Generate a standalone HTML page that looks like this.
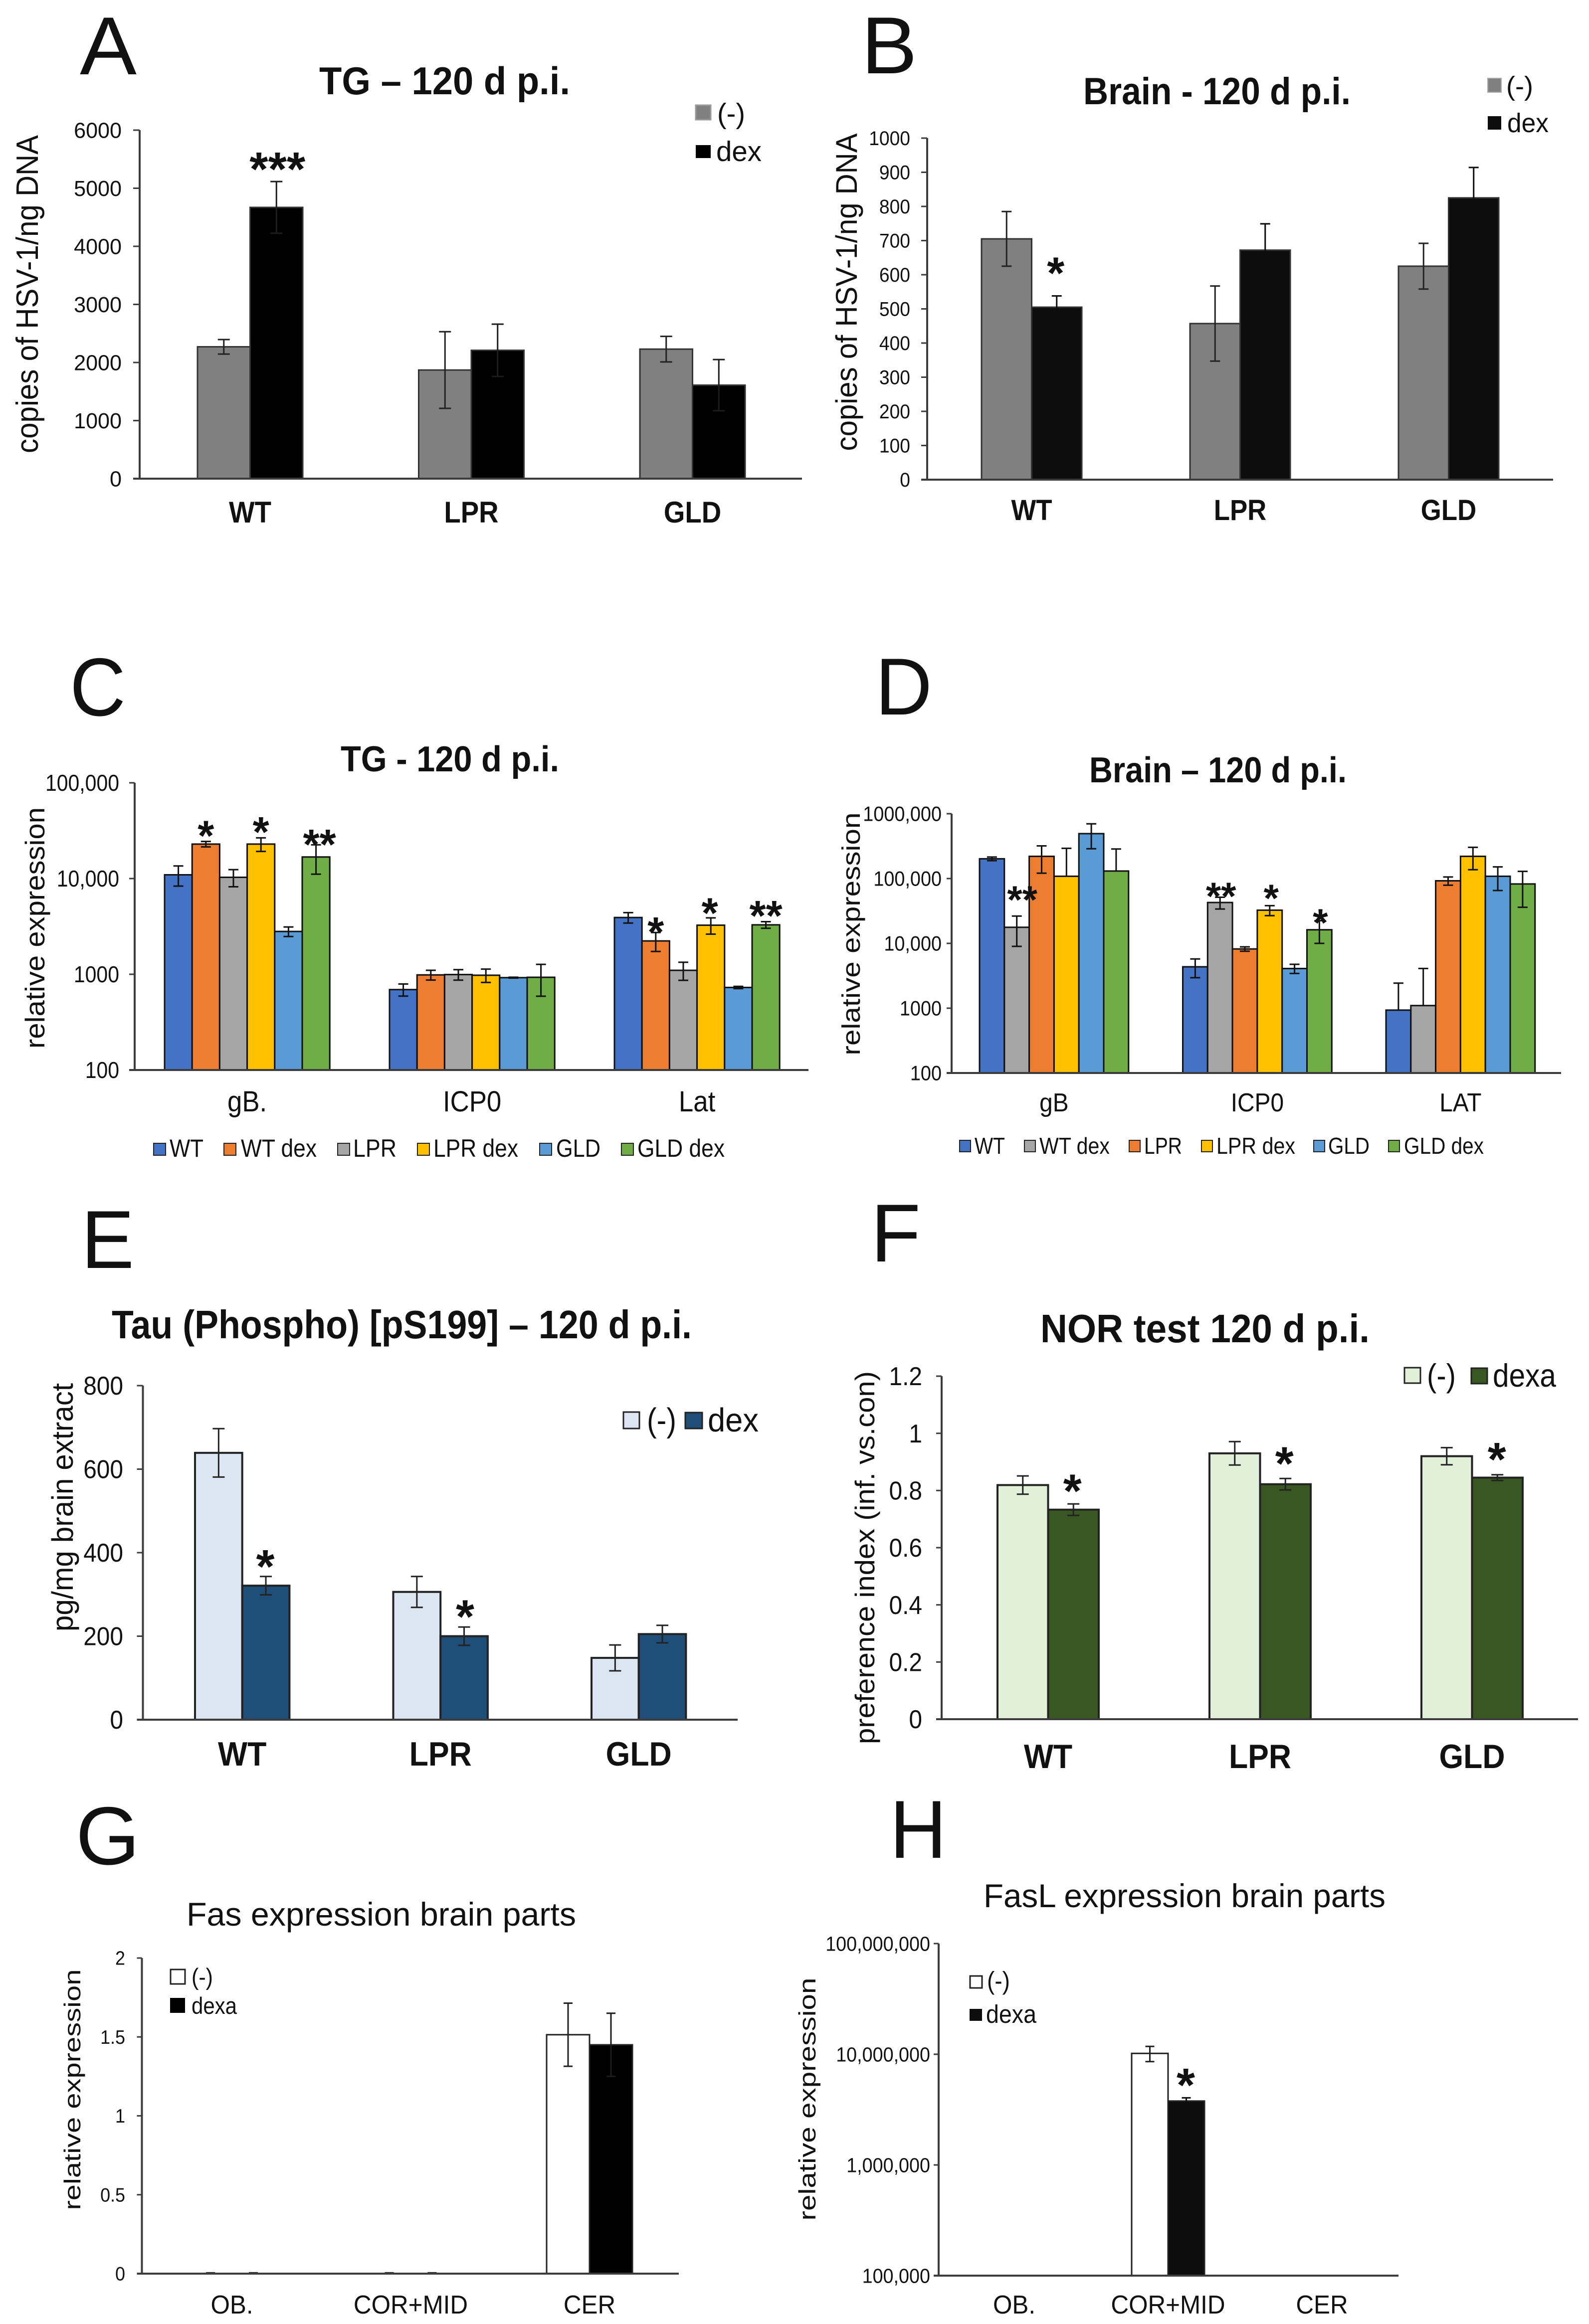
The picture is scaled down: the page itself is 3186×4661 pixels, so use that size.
<!DOCTYPE html>
<html lang="en">
<head>
<meta charset="utf-8">
<title>HSV-1 latency figure, panels A to H</title>
<style>
html,body{margin:0;padding:0;background:#fff;width:3186px;height:4661px;overflow:hidden}
svg{display:block;font-family:"Liberation Sans",Arial,sans-serif;fill:#111}
</style>
</head>
<body>
<svg id="figure" xmlns="http://www.w3.org/2000/svg" width="3186" height="4661" viewBox="0 0 3186 4661">
<rect x="0" y="0" width="3186" height="4661" fill="#fff"/>

<g id="panel-a">
  <text x="160" y="149" font-size="165" textLength="114" lengthAdjust="spacingAndGlyphs">A</text>
  <text x="640" y="189" font-size="78" font-weight="bold" textLength="503" lengthAdjust="spacingAndGlyphs">TG – 120 d p.i.</text>
  <text transform="translate(76,590) rotate(-90)" text-anchor="middle" font-size="62" textLength="638" lengthAdjust="spacingAndGlyphs">copies of HSV-1/ng DNA</text>
  <rect x="1395" y="211" width="30" height="29" fill="#808080" stroke="#999" stroke-width="3"/>
  <text x="1438" y="247" font-size="57" textLength="56" lengthAdjust="spacingAndGlyphs">(-)</text>
  <rect x="1395" y="291" width="30" height="26" fill="#000"/>
  <text x="1436" y="323" font-size="57" textLength="91" lengthAdjust="spacingAndGlyphs">dex</text>
</g>

<g id="panel-b">
  <text x="1727" y="147" font-size="162" textLength="112" lengthAdjust="spacingAndGlyphs">B</text>
  <text x="2172" y="209" font-size="76" font-weight="bold" textLength="536" lengthAdjust="spacingAndGlyphs">Brain - 120 d p.i.</text>
  <text transform="translate(1718,586) rotate(-90)" text-anchor="middle" font-size="60" textLength="637" lengthAdjust="spacingAndGlyphs">copies of HSV-1/ng DNA</text>
  <rect x="2983" y="157" width="27" height="28" fill="#808080" stroke="#aaa" stroke-width="2"/>
  <text x="3020" y="191" font-size="54" textLength="54" lengthAdjust="spacingAndGlyphs">(-)</text>
  <rect x="2983" y="233" width="27" height="27" fill="#0d0d0d"/>
  <text x="3022" y="265" font-size="54" textLength="83" lengthAdjust="spacingAndGlyphs">dex</text>
</g>

<g id="panel-c">
  <text x="140" y="1435" font-size="165" textLength="112" lengthAdjust="spacingAndGlyphs">C</text>
  <text x="683" y="1547" font-size="72" font-weight="bold" textLength="438" lengthAdjust="spacingAndGlyphs">TG - 120 d p.i.</text>
  <text transform="translate(89,1861) rotate(-90)" text-anchor="middle" font-size="55" textLength="484" lengthAdjust="spacingAndGlyphs">relative expression</text>
  <rect x="308" y="2293" width="24" height="24" fill="#4472C4" stroke="#222" stroke-width="2"/>
  <text x="340" y="2320" font-size="50" textLength="68" lengthAdjust="spacingAndGlyphs">WT</text>
  <rect x="449" y="2293" width="24" height="24" fill="#ED7D31" stroke="#222" stroke-width="2"/>
  <text x="483" y="2320" font-size="50" textLength="152" lengthAdjust="spacingAndGlyphs">WT dex</text>
  <rect x="677" y="2293" width="24" height="24" fill="#A5A5A5" stroke="#222" stroke-width="2"/>
  <text x="708" y="2320" font-size="50" textLength="87" lengthAdjust="spacingAndGlyphs">LPR</text>
  <rect x="837" y="2293" width="24" height="24" fill="#FFC000" stroke="#222" stroke-width="2"/>
  <text x="869" y="2320" font-size="50" textLength="170" lengthAdjust="spacingAndGlyphs">LPR dex</text>
  <rect x="1082" y="2293" width="24" height="24" fill="#5B9BD5" stroke="#222" stroke-width="2"/>
  <text x="1115" y="2320" font-size="50" textLength="89" lengthAdjust="spacingAndGlyphs">GLD</text>
  <rect x="1246" y="2293" width="24" height="24" fill="#70AD47" stroke="#222" stroke-width="2"/>
  <text x="1278" y="2320" font-size="50" textLength="175" lengthAdjust="spacingAndGlyphs">GLD dex</text>
</g>

<g id="panel-d">
  <text x="1755" y="1433" font-size="162" textLength="114" lengthAdjust="spacingAndGlyphs">D</text>
  <text x="2184" y="1569" font-size="72" font-weight="bold" textLength="516" lengthAdjust="spacingAndGlyphs">Brain – 120 d p.i.</text>
  <text transform="translate(1724,1873) rotate(-90)" text-anchor="middle" font-size="51" textLength="487" lengthAdjust="spacingAndGlyphs">relative expression</text>
  <rect x="1924" y="2287" width="22" height="23" fill="#4472C4" stroke="#222" stroke-width="2"/>
  <text x="1954" y="2314" font-size="46" textLength="61" lengthAdjust="spacingAndGlyphs">WT</text>
  <rect x="2054" y="2287" width="22" height="23" fill="#A5A5A5" stroke="#222" stroke-width="2"/>
  <text x="2084" y="2314" font-size="46" textLength="141" lengthAdjust="spacingAndGlyphs">WT dex</text>
  <rect x="2264" y="2287" width="22" height="23" fill="#ED7D31" stroke="#222" stroke-width="2"/>
  <text x="2294" y="2314" font-size="46" textLength="76" lengthAdjust="spacingAndGlyphs">LPR</text>
  <rect x="2409" y="2287" width="22" height="23" fill="#FFC000" stroke="#222" stroke-width="2"/>
  <text x="2439" y="2314" font-size="46" textLength="158" lengthAdjust="spacingAndGlyphs">LPR dex</text>
  <rect x="2634" y="2287" width="22" height="23" fill="#5B9BD5" stroke="#222" stroke-width="2"/>
  <text x="2663" y="2314" font-size="46" textLength="83" lengthAdjust="spacingAndGlyphs">GLD</text>
  <rect x="2784" y="2287" width="22" height="23" fill="#70AD47" stroke="#222" stroke-width="2"/>
  <text x="2815" y="2314" font-size="46" textLength="160" lengthAdjust="spacingAndGlyphs">GLD dex</text>
</g>

<g id="panel-e">
  <text x="163" y="2543" font-size="165" textLength="106" lengthAdjust="spacingAndGlyphs">E</text>
  <text x="224" y="2684" font-size="80" font-weight="bold" textLength="1163" lengthAdjust="spacingAndGlyphs">Tau (Phospho) [pS199] – 120 d p.i.</text>
  <text transform="translate(146,3023) rotate(-90)" text-anchor="middle" font-size="60" textLength="498" lengthAdjust="spacingAndGlyphs">pg/mg brain extract</text>
  <rect x="1250" y="2832" width="32" height="33" fill="#DCE6F2" stroke="#222" stroke-width="3"/>
  <text x="1297" y="2871" font-size="67" textLength="59" lengthAdjust="spacingAndGlyphs">(-)</text>
  <rect x="1374" y="2833" width="34" height="32" fill="#1F4E79" stroke="#222" stroke-width="3"/>
  <text x="1419" y="2871" font-size="67" textLength="102" lengthAdjust="spacingAndGlyphs">dex</text>
</g>

<g id="panel-f">
  <text x="1746" y="2530" font-size="165" textLength="100" lengthAdjust="spacingAndGlyphs">F</text>
  <text x="2086" y="2692" font-size="80" font-weight="bold" textLength="660" lengthAdjust="spacingAndGlyphs">NOR test 120 d p.i.</text>
  <text transform="translate(1753,3124) rotate(-90)" text-anchor="middle" font-size="55" textLength="748" lengthAdjust="spacingAndGlyphs">preference index (inf. vs.con)</text>
  <rect x="2816" y="2743" width="32" height="31" fill="#E2F0D9" stroke="#222" stroke-width="3"/>
  <text x="2861" y="2781" font-size="65" textLength="58" lengthAdjust="spacingAndGlyphs">(-)</text>
  <rect x="2950" y="2744" width="32" height="31" fill="#385723" stroke="#222" stroke-width="3"/>
  <text x="2993" y="2781" font-size="65" textLength="127" lengthAdjust="spacingAndGlyphs">dexa</text>
</g>

<g id="panel-g">
  <text x="152" y="3739" font-size="165" textLength="128" lengthAdjust="spacingAndGlyphs">G</text>
  <text x="374" y="3862" font-size="66" textLength="781" lengthAdjust="spacingAndGlyphs">Fas expression brain parts</text>
  <text transform="translate(161,4191) rotate(-90)" text-anchor="middle" font-size="46" textLength="483" lengthAdjust="spacingAndGlyphs">relative expression</text>
  <rect x="342" y="3950" width="29" height="29" fill="#fff" stroke="#222" stroke-width="3"/>
  <text x="384" y="3981" font-size="47" textLength="43" lengthAdjust="spacingAndGlyphs">(-)</text>
  <rect x="341" y="4007" width="30" height="30" fill="#000"/>
  <text x="384" y="4039" font-size="47" textLength="91" lengthAdjust="spacingAndGlyphs">dexa</text>
</g>

<g id="panel-h">
  <text x="1784" y="3726" font-size="165" textLength="114" lengthAdjust="spacingAndGlyphs">H</text>
  <text x="1972" y="3825" font-size="66" textLength="806" lengthAdjust="spacingAndGlyphs">FasL expression brain parts</text>
  <text transform="translate(1635,4210) rotate(-90)" text-anchor="middle" font-size="47" textLength="487" lengthAdjust="spacingAndGlyphs">relative expression</text>
  <rect x="1945" y="3963" width="24" height="24" fill="#fff" stroke="#222" stroke-width="3"/>
  <text x="1979" y="3990" font-size="51" textLength="46" lengthAdjust="spacingAndGlyphs">(-)</text>
  <rect x="1944" y="4029" width="25" height="24" fill="#0d0d0d"/>
  <text x="1977" y="4057" font-size="51" textLength="101" lengthAdjust="spacingAndGlyphs">dexa</text>
</g>
</svg>

<script>
// ---- Panel A data ----
const panelACategories = ['WT', 'LPR', 'GLD'];
const panelATickValues = [0, 1000, 2000, 3000, 4000, 5000, 6000];
const panelATickLabels = ['0', '1000', '2000', '3000', '4000', '5000', '6000'];
const panelAControl = [2270, 1870, 2230];
const panelAControlErr = [125, 660, 220];
const panelADex = [4670, 2210, 1610];
const panelADexErr = [445, 450, 440];

// ---- Panel B data ----
const panelBCategories = ['WT', 'LPR', 'GLD'];
const panelBTickValues = [0, 100, 200, 300, 400, 500, 600, 700, 800, 900, 1000];
const panelBTickLabels = ['0', '100', '200', '300', '400', '500', '600', '700', '800', '900', '1000'];
const panelBControl = [705, 457, 625];
const panelBControlErr = [80, 110, 67];
const panelBDex = [505, 672, 825];
const panelBDexErr = [33, 77, 89];

// ---- Panel C data (log axis) ----
const panelCCategories = ['gB.', 'ICP0', 'Lat'];
const panelCTickValues = [100, 1000, 10000, 100000];
const panelCTickLabels = ['100', '1000', '10,000', '100,000'];
const panelCWt = [10940, 692, 3917];
const panelCWtErr = [2600, 100, 490];
const panelCWtDex = [22900, 985, 2230];
const panelCWtDexErr = [1500, 115, 500];
const panelCLpr = [10300, 993, 1100];
const panelCLprErr = [2100, 125, 235];
const panelCLprDex = [22900, 977, 3256];
const panelCLprDexErr = [3700, 155, 630];
const panelCGld = [2800, 922, 728];
const panelCGldErr = [320, 10, 20];
const panelCGldDex = [16800, 930, 3283];
const panelCGldDexErr = [5700, 340, 260];

// ---- Panel D data (log axis) ----
const panelDCategories = ['gB', 'ICP0', 'LAT'];
const panelDTickValues = [100, 1000, 10000, 100000, 1000000];
const panelDTickLabels = ['100', '1000', '10,000', '100,000', '1000,000'];
const panelDWt = [201800, 4350, 934];
const panelDWtErr = [13000, 1400, 1500];
const panelDWtDex = [17700, 42700, 1097];
const panelDWtDexErr = [8700, 8800, 3000];
const panelDLpr = [220000, 8200, 92300];
const panelDLprErr = [99000, 630, 13400];
const panelDLprDex = [108400, 32500, 220000];
const panelDLprDexErr = [184000, 5700, 83000];
const panelDGld = [493000, 4090, 108400];
const panelDGldErr = [205000, 660, 43000];
const panelDGldDex = [130600, 16200, 82500];
const panelDGldDexErr = [155000, 6200, 46500];

// ---- Panel E data ----
const panelECategories = ['WT', 'LPR', 'GLD'];
const panelETickValues = [0, 200, 400, 600, 800];
const panelETickLabels = ['0', '200', '400', '600', '800'];
const panelEControl = [639, 306, 148];
const panelEControlErr = [58, 37, 31];
const panelEDex = [321, 200, 205];
const panelEDexErr = [22, 22, 21];

// ---- Panel F data ----
const panelFCategories = ['WT', 'LPR', 'GLD'];
const panelFTickValues = [0, 0.2, 0.4, 0.6, 0.8, 1, 1.2];
const panelFTickLabels = ['0', '0.2', '0.4', '0.6', '0.8', '1', '1.2'];
const panelFControl = [0.819, 0.93, 0.92];
const panelFControlErr = [0.032, 0.041, 0.03];
const panelFDexa = [0.733, 0.822, 0.845];
const panelFDexaErr = [0.02, 0.02, 0.01];

// ---- Panel G data ----
const panelGCategories = ['OB.', 'COR+MID', 'CER'];
const panelGTickValues = [0, 0.5, 1, 1.5, 2];
const panelGTickLabels = ['0', '0.5', '1', '1.5', '2'];
const panelGControl = [0, 0, 1.514];
const panelGControlErr = [0.005, 0.005, 0.2];
const panelGDexa = [0, 0, 1.45];
const panelGDexaErr = [0.005, 0.005, 0.2];

// ---- Panel H data (log axis) ----
const panelHCategories = ['OB.', 'COR+MID', 'CER'];
const panelHTickValues = [100000, 1000000, 10000000, 100000000];
const panelHTickLabels = ['100,000', '1,000,000', '10,000,000', '100,000,000'];
const panelHControl = [0, 10180000, 0];
const panelHControlErr = [0, 1600000, 0];
const panelHDexa = [0, 3780000, 0];
const panelHDexaErr = [0, 260000, 0];

const SVG_NS = 'http://www.w3.org/2000/svg';

function make(tag, parent) {
  const el = document.createElementNS(SVG_NS, tag);
  parent.appendChild(el);
  return el;
}

function line(parent, x1, y1, x2, y2, color, width) {
  const el = make('line', parent);
  el.setAttribute('x1', x1);
  el.setAttribute('y1', y1);
  el.setAttribute('x2', x2);
  el.setAttribute('y2', y2);
  el.setAttribute('stroke', color);
  el.setAttribute('stroke-width', width);
  return el;
}

function label(parent, x, y, str, size, anchor, bold, squeeze) {
  const el = make('text', parent);
  el.setAttribute('x', x);
  el.setAttribute('y', y);
  el.setAttribute('font-size', size);
  el.setAttribute('text-anchor', anchor);
  if (bold) el.setAttribute('font-weight', 'bold');
  el.textContent = str;
  if (squeeze && squeeze !== 1) {
    el.setAttribute('textLength', (el.getComputedTextLength() * squeeze).toFixed(1));
    el.setAttribute('lengthAdjust', 'spacingAndGlyphs');
  }
  return el;
}

function drawChart(c) {
  const root = document.getElementById(c.id);
  const min = c.tickValues[0];
  const max = c.tickValues[c.tickValues.length - 1];
  const yScale = function (v) {
    const t = c.log
      ? (Math.log10(v) - Math.log10(min)) / (Math.log10(max) - Math.log10(min))
      : (v - min) / (max - min);
    return c.bottom - t * (c.bottom - c.top);
  };
  const barX = function (cat, ser) {
    return c.groupStart + cat * c.groupStep + ser * c.barWidth;
  };

  c.series.forEach(function (s, si) {
    s.values.forEach(function (v, ci) {
      if (v <= min) return;
      const bar = make('rect', root);
      
      
      bar.setAttribute('x', barX(ci, si));
      bar.setAttribute('y', yScale(v));
      bar.setAttribute('width', c.barWidth);
      bar.setAttribute('height', c.bottom - yScale(v));
      bar.setAttribute('fill', s.fill);
      bar.setAttribute('stroke', c.barStroke);
      bar.setAttribute('stroke-width', c.barStrokeWidth);
    });
  });

  c.series.forEach(function (s, si) {
    s.values.forEach(function (v, ci) {
      const e = s.errors[ci];
      if (!(e > 0)) return;
      const cx = barX(ci, si) + c.barWidth / 2;
      const yTop = yScale(v + e);
      const hasLower = v - e > min;
      const yLow = hasLower ? yScale(v - e) : yScale(Math.max(v, min));
      const color = s.errColor || c.errColor;
      const g = make('g', root);
      
      
      line(g, cx, yTop, cx, yLow, color, 3);
      line(g, cx - c.capHalf, yTop, cx + c.capHalf, yTop, color, 3);
      if (hasLower) line(g, cx - c.capHalf, yLow, cx + c.capHalf, yLow, color, 3);
    });
  });

  const yAxis = line(root, c.axisX, c.top, c.axisX, c.bottom, c.axisColor, 4);
  
  
  const xAxis = line(root, c.axisX - c.tickLen, c.bottom, c.baseRight, c.bottom, c.axisColor, 4);
  
  

  c.tickValues.forEach(function (v, i) {
    const y = yScale(v);
    const tick = line(root, c.axisX - c.tickLen, y, c.axisX, y, c.axisColor, 3);
    
    
    const tl = label(root, c.tickRight, y + 0.35 * c.tickSize, c.tickLabels[i], c.tickSize, 'end', false, c.tickSqueeze);
    
    
  });

  c.categories.forEach(function (name, ci) {
    const cx = barX(ci, 0) + c.barWidth * c.series.length / 2;
    const cl = label(root, cx, c.catBaseline, name, c.catSize, 'middle', c.catBold, c.catSqueeze);
    
    
  });

  c.stars.forEach(function (st) {
    const s = c.series[st.ser];
    const v = s.values[st.cat] + s.errors[st.cat];
    const cx = barX(st.cat, st.ser) + c.barWidth / 2 + st.dx;
    const y = yScale(v) - st.gap + c.starDrop * c.starSize;
    const mark = label(root, cx, y, st.text, c.starSize, 'middle', true, 1);
    
    
  });
}

drawChart({
  id: 'panel-a', log: false, categories: panelACategories,
  tickValues: panelATickValues, tickLabels: panelATickLabels,
  top: 261, bottom: 960, axisX: 280, tickLen: 13, baseRight: 1608,
  tickRight: 244, tickSize: 44, tickSqueeze: 0.98, catBaseline: 1048, catSize: 60, catBold: true, catSqueeze: 0.91,
  groupStart: 396, groupStep: 443.5, barWidth: 105.5,
  barStroke: '#333', barStrokeWidth: 3, errColor: '#222', capHalf: 12, axisColor: '#3c3c3c',
  starSize: 96, starDrop: 0.28,
  series: [
    { name: 'control', values: panelAControl, errors: panelAControlErr, fill: '#808080' },
    { name: 'dex', values: panelADex, errors: panelADexErr, fill: '#000000', errColor: '#1c1c1c' }
  ],
  stars: [{ cat: 0, ser: 1, text: '***', gap: 19, dx: 2 }]
});

drawChart({
  id: 'panel-b', log: false, categories: panelBCategories,
  tickValues: panelBTickValues, tickLabels: panelBTickLabels,
  top: 277, bottom: 962, axisX: 1859, tickLen: 12, baseRight: 3114,
  tickRight: 1825, tickSize: 40, tickSqueeze: 0.93, catBaseline: 1043, catSize: 58, catBold: true, catSqueeze: 0.91,
  groupStart: 1968, groupStep: 418, barWidth: 100.5,
  barStroke: '#333', barStrokeWidth: 3, errColor: '#222', capHalf: 10, axisColor: '#3c3c3c',
  starSize: 90, starDrop: 0.32,
  series: [
    { name: 'control', values: panelBControl, errors: panelBControlErr, fill: '#808080' },
    { name: 'dex', values: panelBDex, errors: panelBDexErr, fill: '#0d0d0d', errColor: '#0d0d0d' }
  ],
  stars: [{ cat: 0, ser: 1, text: '*', gap: 44, dx: -2 }]
});

drawChart({
  id: 'panel-c', log: true, categories: panelCCategories,
  tickValues: panelCTickValues, tickLabels: panelCTickLabels,
  top: 1570, bottom: 2146, axisX: 270, tickLen: 11, baseRight: 1621,
  tickRight: 239, tickSize: 46, tickSqueeze: 0.89, catBaseline: 2229, catSize: 58, catBold: false, catSqueeze: 0.91,
  groupStart: 330, groupStep: 451, barWidth: 55.2,
  barStroke: '#111', barStrokeWidth: 3, errColor: '#111', capHalf: 10, axisColor: '#3c3c3c',
  starSize: 85, starDrop: 0.42,
  series: [
    { name: 'wt', values: panelCWt, errors: panelCWtErr, fill: '#4472C4' },
    { name: 'wt-dex', values: panelCWtDex, errors: panelCWtDexErr, fill: '#ED7D31' },
    { name: 'lpr', values: panelCLpr, errors: panelCLprErr, fill: '#A5A5A5' },
    { name: 'lpr-dex', values: panelCLprDex, errors: panelCLprDexErr, fill: '#FFC000' },
    { name: 'gld', values: panelCGld, errors: panelCGldErr, fill: '#5B9BD5' },
    { name: 'gld-dex', values: panelCGldDex, errors: panelCGldDexErr, fill: '#70AD47' }
  ],
  stars: [
    { cat: 0, ser: 1, text: '*', gap: 18, dx: 0 },
    { cat: 0, ser: 3, text: '*', gap: 18, dx: 0 },
    { cat: 0, ser: 5, text: '**', gap: 7, dx: 7 },
    { cat: 2, ser: 1, text: '*', gap: 7, dx: 0 },
    { cat: 2, ser: 3, text: '*', gap: 16, dx: -2 },
    { cat: 2, ser: 5, text: '**', gap: 18, dx: 0 }
  ]
});

drawChart({
  id: 'panel-d', log: true, categories: panelDCategories,
  tickValues: panelDTickValues, tickLabels: panelDTickLabels,
  top: 1632, bottom: 2152, axisX: 1908, tickLen: 10, baseRight: 3130,
  tickRight: 1888, tickSize: 42, tickSqueeze: 0.9, catBaseline: 2229, catSize: 52, catBold: false, catSqueeze: 0.92,
  groupStart: 1964, groupStep: 407.5, barWidth: 49.8,
  barStroke: '#111', barStrokeWidth: 3, errColor: '#111', capHalf: 10, axisColor: '#3c3c3c',
  starSize: 78, starDrop: 0.42,
  series: [
    { name: 'wt', values: panelDWt, errors: panelDWtErr, fill: '#4472C4' },
    { name: 'wt-dex', values: panelDWtDex, errors: panelDWtDexErr, fill: '#A5A5A5' },
    { name: 'lpr', values: panelDLpr, errors: panelDLprErr, fill: '#ED7D31' },
    { name: 'lpr-dex', values: panelDLprDex, errors: panelDLprDexErr, fill: '#FFC000' },
    { name: 'gld', values: panelDGld, errors: panelDGldErr, fill: '#5B9BD5' },
    { name: 'gld-dex', values: panelDGldDex, errors: panelDGldDexErr, fill: '#70AD47' }
  ],
  stars: [
    { cat: 0, ser: 1, text: '**', gap: 39, dx: 11 },
    { cat: 1, ser: 1, text: '**', gap: 8, dx: 2 },
    { cat: 1, ser: 3, text: '*', gap: 21, dx: 3 },
    { cat: 1, ser: 5, text: '*', gap: 2, dx: 2 }
  ]
});

drawChart({
  id: 'panel-e', log: false, categories: panelECategories,
  tickValues: panelETickValues, tickLabels: panelETickLabels,
  top: 2779, bottom: 3449, axisX: 286.5, tickLen: 12, baseRight: 1479,
  tickRight: 247, tickSize: 52, tickSqueeze: 0.92, catBaseline: 3541, catSize: 68, catBold: true, catSqueeze: 0.92,
  groupStart: 391, groupStep: 397.5, barWidth: 94.7,
  barStroke: '#222', barStrokeWidth: 4, errColor: '#222', capHalf: 12, axisColor: '#3c3c3c',
  starSize: 95, starDrop: 0.3,
  series: [
    { name: 'control', values: panelEControl, errors: panelEControlErr, fill: '#DCE6F2' },
    { name: 'dex', values: panelEDex, errors: panelEDexErr, fill: '#1F4E79' }
  ],
  stars: [
    { cat: 0, ser: 1, text: '*', gap: 16, dx: -1 },
    { cat: 1, ser: 1, text: '*', gap: 17, dx: 2 }
  ]
});

drawChart({
  id: 'panel-f', log: false, categories: panelFCategories,
  tickValues: panelFTickValues, tickLabels: panelFTickLabels,
  top: 2760, bottom: 3448, axisX: 1888, tickLen: 11, baseRight: 3164,
  tickRight: 1849, tickSize: 52, tickSqueeze: 0.92, catBaseline: 3546, catSize: 68, catBold: true, catSqueeze: 0.92,
  groupStart: 2000, groupStep: 425, barWidth: 101.5,
  barStroke: '#222', barStrokeWidth: 4, errColor: '#222', capHalf: 12, axisColor: '#3c3c3c',
  starSize: 95, starDrop: 0.32,
  series: [
    { name: 'control', values: panelFControl, errors: panelFControlErr, fill: '#E2F0D9' },
    { name: 'dexa', values: panelFDexa, errors: panelFDexaErr, fill: '#385723' }
  ],
  stars: [
    { cat: 0, ser: 1, text: '*', gap: 24, dx: -2 },
    { cat: 1, ser: 1, text: '*', gap: 28, dx: -2 },
    { cat: 2, ser: 1, text: '*', gap: 29, dx: -1 }
  ]
});

drawChart({
  id: 'panel-g', log: false, categories: panelGCategories,
  tickValues: panelGTickValues, tickLabels: panelGTickLabels,
  top: 3927, bottom: 4560, axisX: 284.5, tickLen: 10, baseRight: 1361,
  tickRight: 251, tickSize: 39, tickSqueeze: 0.92, catBaseline: 4640, catSize: 52, catBold: false, catSqueeze: 0.95,
  groupStart: 379, groupStep: 358.5, barWidth: 86,
  barStroke: '#222', barStrokeWidth: 3, errColor: '#222', capHalf: 9, axisColor: '#3c3c3c',
  starSize: 90, starDrop: 0.32,
  series: [
    { name: 'control', values: panelGControl, errors: panelGControlErr, fill: '#ffffff' },
    { name: 'dexa', values: panelGDexa, errors: panelGDexaErr, fill: '#000000', errColor: '#1c1c1c' }
  ],
  stars: []
});

drawChart({
  id: 'panel-h', log: true, categories: panelHCategories,
  tickValues: panelHTickValues, tickLabels: panelHTickLabels,
  top: 3898, bottom: 4564, axisX: 1882, tickLen: 10, baseRight: 2804,
  tickRight: 1865, tickSize: 41, tickSqueeze: 0.92, catBaseline: 4640, catSize: 52, catBold: false, catSqueeze: 0.95,
  groupStart: 1960.5, groupStep: 308.5, barWidth: 73,
  barStroke: '#222', barStrokeWidth: 3, errColor: '#222', capHalf: 9, axisColor: '#3c3c3c',
  starSize: 95, starDrop: 0.32,
  series: [
    { name: 'control', values: panelHControl, errors: panelHControlErr, fill: '#ffffff' },
    { name: 'dexa', values: panelHDexa, errors: panelHDexaErr, fill: '#0d0d0d', errColor: '#0d0d0d' }
  ],
  stars: [{ cat: 1, ser: 1, text: '*', gap: 24, dx: -1 }]
});
</script>
</body>
</html>
